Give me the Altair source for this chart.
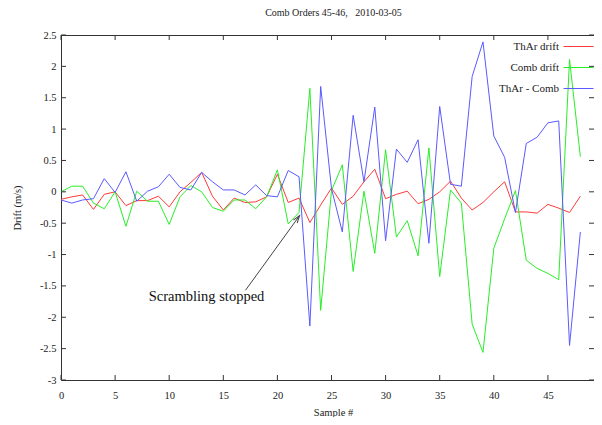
import altair as alt
import pandas as pd

# ---- data ----
samples = list(range(49))
thar_drift = [-0.12, -0.08, -0.05, -0.28, -0.04, 0.00, -0.22, -0.14, -0.14, -0.07,
              -0.24, 0.00, 0.15, 0.31, -0.07, -0.29, -0.10, -0.17, -0.16, -0.08,
              0.28, -0.17, -0.10, -0.49, -0.21, 0.06, -0.20, -0.07, 0.16, 0.36,
              -0.11, -0.04, 0.01, -0.19, -0.12, 0.00, 0.17, -0.10, -0.29, -0.17,
              0.00, 0.16, -0.32, -0.32, -0.34, -0.20, -0.26, -0.33, -0.07]
comb_drift = [0.00, 0.09, 0.09, -0.18, -0.27, 0.00, -0.55, 0.01, -0.15, -0.15,
              -0.52, -0.08, 0.10, 0.00, -0.25, -0.31, -0.13, -0.13, -0.27, -0.08,
              0.35, -0.51, -0.33, 1.65, -1.89, 0.02, 0.43, -1.27, 0.01, -0.98,
              0.67, -0.72, -0.46, -1.02, 0.70, -1.35, 0.03, -0.18, -2.11, -2.56,
              -0.90, -0.43, 0.02, -1.09, -1.22, -1.30, -1.40, 2.11, 0.56]
thar_minus_comb = [-0.13, -0.18, -0.13, -0.11, 0.21, -0.01, 0.32, -0.15, 0.01, 0.08,
                   0.28, 0.07, 0.03, 0.31, 0.16, 0.03, 0.03, -0.05, 0.11, -0.06,
                   -0.08, 0.34, 0.24, -2.14, 1.68, 0.05, -0.64, 1.22, 0.16, 1.35,
                   -0.78, 0.68, 0.47, 0.83, -0.82, 1.36, 0.12, 0.09, 1.84, 2.39,
                   0.89, 0.55, -0.33, 0.77, 0.87, 1.10, 1.13, -2.45, -0.64]

series_names = ["ThAr drift", "Comb drift", "ThAr - Comb"]
series_colors = ["#ff3a3a", "#28ee28", "#5a5aff"]

x_ticks = [0, 5, 10, 15, 20, 25, 30, 35, 40, 45, 50]
y_ticks = [-3, -2.5, -2, -1.5, -1, -0.5, 0, 0.5, 1, 1.5, 2, 2.5]

annotation_text = ["Scrambling stopped"]
annotation_pos = [13.45, -1.68]
arrow_from = [17.05, -1.57]
arrow_to = [22.05, -0.38]

title_text = "Comb Orders 45-46,\u00a0\u00a0\u00a02010-03-05"
x_title = "Sample #"
y_title = "Drift (m/s)"

# ---- layout ----
# the reference's right border (x = 50) lies just past the picture's edge;
# the visible window of the x scale ends at 49.26 so the scale matches it.
W, H = 533, 345
X_VISIBLE_MAX = 49.26
FONT = "Liberation Serif"
INK = "#222222"
BORDER = "#333333"

x_scale = alt.Scale(domain=[0, X_VISIBLE_MAX], nice=False, zero=False)
y_scale = alt.Scale(domain=[-3, 2.5], nice=False, zero=False)

x_axis = alt.Axis(values=x_ticks, ticks=False, tickSize=0, domain=False, grid=False,
                  labelFlush=False, labelBound=False, labelOverlap=False,
                  labelFont=FONT, labelFontSize=10.5, labelColor=INK, labelPadding=10,
                  labelExpr="'' + datum.value",
                  titleFont=FONT, titleFontSize=10.5, titleFontWeight="normal",
                  titleColor=INK, titleX=272, titleY=35, titleAlign="center",
                  titleBaseline="alphabetic")
y_axis = alt.Axis(values=y_ticks, ticks=False, tickSize=0, domain=False, grid=False,
                  labelFont=FONT, labelFontSize=10.5, labelColor=INK, labelPadding=5,
                  labelExpr="'' + datum.value",
                  titleFont=FONT, titleFontSize=10.5, titleFontWeight="normal",
                  titleColor=INK, titleAngle=-90, titleX=-44, titleY=H / 2,
                  titleAlign="center", titleBaseline="middle")


def X(field):
    return alt.X(field, scale=x_scale, axis=x_axis, title=x_title)


def Y(field):
    return alt.Y(field, scale=y_scale, axis=y_axis, title=y_title)


rows = []
for name, vals in zip(series_names, [thar_drift, comb_drift, thar_minus_comb]):
    for s, v in zip(samples, vals):
        rows.append({"sample": s, "drift": v, "series": name, "order": series_names.index(name)})
df = pd.DataFrame(rows)

# legend: a coloured 30px line sample to the right of a right-aligned label (gnuplot style)
legend = alt.Legend(title=None, orient="none", legendX=502, legendY=-4,
                    symbolType="stroke", symbolSize=900, symbolStrokeWidth=1,
                    labelAlign="right", labelOffset={"expr": "-35"},
                    labelFont=FONT, labelFontSize=11, labelColor=INK,
                    rowPadding={"expr": "-5"}, padding=0, symbolOffset=0)

lines = alt.Chart(df).mark_line(strokeWidth=1, clip=True).encode(
    x=X("sample:Q"),
    y=Y("drift:Q"),
    color=alt.Color("series:N",
                    scale=alt.Scale(domain=series_names, range=series_colors),
                    legend=legend),
    detail="series:N",
    order="order:Q",
)

ydf = pd.DataFrame({"v": y_ticks})
xdf = pd.DataFrame({"t": x_ticks})
tick_len = 5
left_ticks = alt.Chart(ydf).mark_rule(color=BORDER, strokeWidth=1).encode(
    y=Y("v:Q"), x=alt.value(0), x2=alt.value(tick_len))
right_ticks = alt.Chart(ydf).mark_rule(color=BORDER, strokeWidth=1).encode(
    y=Y("v:Q"), x=alt.value(W - tick_len), x2=alt.value(W))
bottom_ticks = alt.Chart(xdf).mark_rule(color=BORDER, strokeWidth=1).encode(
    x=X("t:Q"), y=alt.value(H), y2=alt.value(H - tick_len))
top_ticks = alt.Chart(xdf).mark_rule(color=BORDER, strokeWidth=1).encode(
    x=X("t:Q"), y=alt.value(0), y2=alt.value(tick_len))

ann_df = pd.DataFrame({"x": [annotation_pos[0]], "y": [annotation_pos[1]], "label": annotation_text})
ann_text = alt.Chart(ann_df).mark_text(font=FONT, fontSize=14.5, color="#111111",
                                       align="center", baseline="middle").encode(
    x=X("x:Q"), y=Y("y:Q"), text="label:N")

arrow_df = pd.DataFrame({"x0": [arrow_from[0]], "y0": [arrow_from[1]],
                         "x1": [arrow_to[0]], "y1": [arrow_to[1]]})
arrow_line = alt.Chart(arrow_df).mark_rule(color="#444444", strokeWidth=1).encode(
    x=X("x0:Q"), y=Y("y0:Q"), x2="x1:Q", y2="y1:Q")
arrow_head = alt.Chart(arrow_df).mark_point(shape="M-0.45,1.4L0,0L0.45,1.4", size=110, angle=36,
                                            filled=False, color="#444444", strokeWidth=1,
                                            opacity=1).encode(
    x=X("x1:Q"), y=Y("y1:Q"))

chart = alt.layer(
    lines, left_ticks, right_ticks, bottom_ticks, top_ticks, ann_text, arrow_line, arrow_head
).properties(
    width=W, height=H,
    padding={"left": 53, "top": 27, "right": 0, "bottom": 37},
    autosize=alt.AutoSizeParams(type="none"),
    title=alt.Title(title_text, font=FONT, fontSize=10, fontWeight="normal",
                    color=INK, offset=12, anchor="middle", dx=6),
    background="white",
).configure_view(stroke=BORDER, strokeWidth=1)

chart.save("out.html", embed_options={"renderer": "svg", "actions": False})
